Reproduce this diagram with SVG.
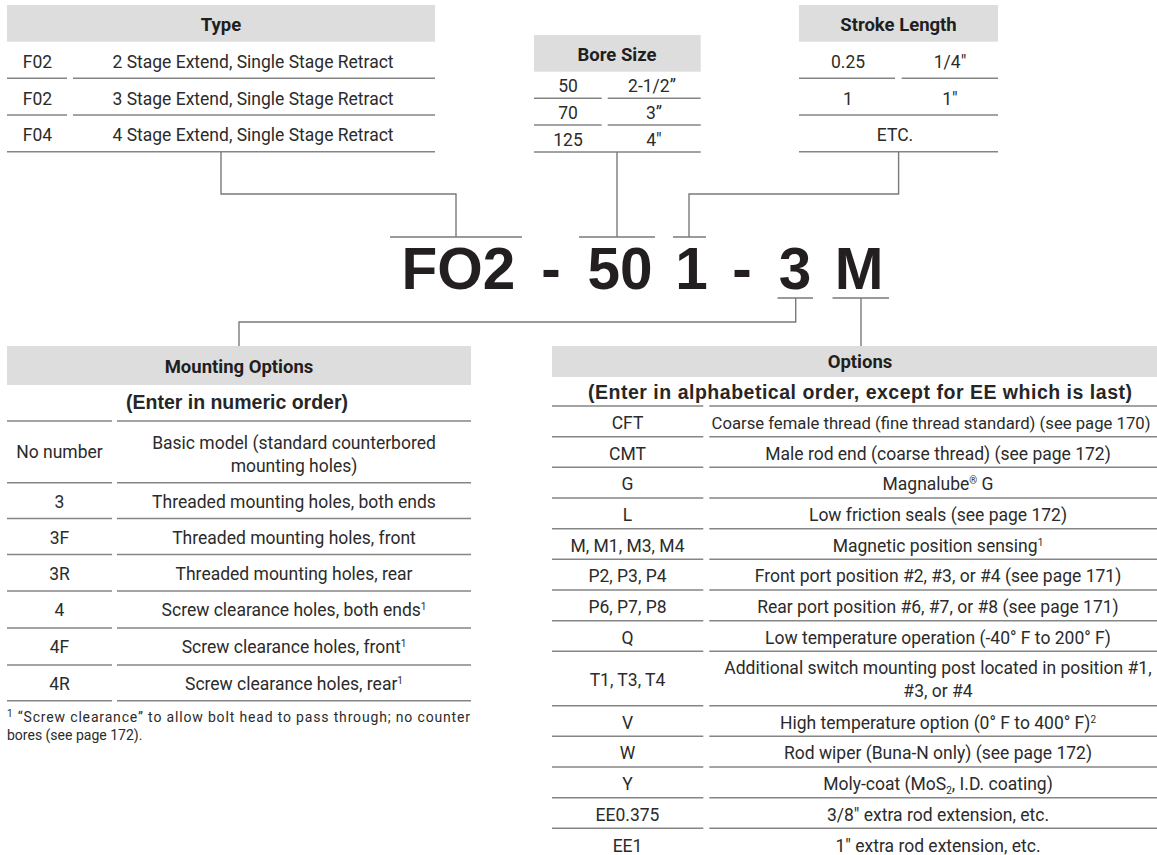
<svg xmlns="http://www.w3.org/2000/svg" width="1157" height="855" viewBox="0 0 1157 855">
<style>
.hdr{fill:#dddddd}
.ln{stroke:#858585;stroke-width:1.5;fill:none}
.cn{stroke:#7a7a7a;stroke-width:1.4;fill:none}
.t{font-family:Roboto,"Liberation Sans",sans-serif;font-size:17.5px;fill:#2b2b2b;text-anchor:middle}
.h{font-family:Roboto,"Liberation Sans",sans-serif;font-weight:700;font-size:18.5px;fill:#1f1f1f;text-anchor:middle}
.s{font-family:"Liberation Sans",Arial,sans-serif;font-weight:700;font-size:19.5px;fill:#262626;text-anchor:middle}
.big{font-family:"Liberation Sans",Arial,sans-serif;font-weight:700;font-size:58.5px;fill:#231f20;text-anchor:middle}
.fn{font-family:Roboto,"Liberation Sans",sans-serif;font-size:14px;fill:#2b2b2b}
.sup{font-size:10px}
</style>
<rect width="1157" height="855" fill="#ffffff"/>

<g id="type-table">
<rect class="hdr" x="7" y="5" width="428" height="36.7"/>
<text class="h" x="221" y="30.5">Type</text>
<text class="t" x="37.5" y="68">F02</text><text class="t" x="253" y="68">2 Stage Extend, Single Stage Retract</text>
<text class="t" x="37.5" y="104.5">F02</text><text class="t" x="253" y="104.5">3 Stage Extend, Single Stage Retract</text>
<text class="t" x="37.5" y="141">F04</text><text class="t" x="253" y="141">4 Stage Extend, Single Stage Retract</text>
<path class="ln" d="M7,78.3H67M73,78.3H435M7,115H67M73,115H435M7,151.7H435"/>
</g>

<g id="bore-table">
<rect class="hdr" x="534" y="35" width="166.7" height="36.7"/>
<text class="h" x="617" y="60.5">Bore Size</text>
<text class="t" x="568" y="92">50</text><text class="t" x="652" y="92">2-1/2”</text>
<text class="t" x="568" y="119">70</text><text class="t" x="654" y="119">3”</text>
<text class="t" x="568" y="146">125</text><text class="t" x="654" y="146">4"</text>
<path class="ln" d="M534,98.3H601.7M607.7,98.3H700.7M534,125H601.7M607.7,125H700.7M534,152H700.7"/>
</g>

<g id="stroke-table">
<rect class="hdr" x="799" y="5" width="199" height="36.7"/>
<text class="h" x="898.5" y="30.5">Stroke Length</text>
<text class="t" x="848" y="68">0.25</text><text class="t" x="950" y="68">1/4"</text>
<text class="t" x="848" y="104.5">1</text><text class="t" x="950" y="104.5">1"</text>
<text class="t" x="895" y="141">ETC.</text>
<path class="ln" d="M799,78.3H895M901.7,78.3H998M799,115H998M799,151.7H998"/>
</g>

<g id="model-code">
<text class="big" x="458.5" y="289">FO2</text>
<text class="big" x="551" y="289">-</text>
<text class="big" x="620" y="289">50</text>
<text class="big" x="691.5" y="289">1</text>
<text class="big" x="742" y="289">-</text>
<text class="big" x="795" y="289">3</text>
<text class="big" x="859" y="289">M</text>
</g>

<g id="connectors">
<path class="cn" d="M390,237H522M579,237H655M673,237H706M777.5,298H813M832.5,298H889"/>
<path class="cn" d="M221,152V194H456V237"/>
<path class="cn" d="M617,152V237"/>
<path class="cn" d="M898.6,152V194H689V237"/>
<path class="cn" d="M795.7,298V322H239V346"/>
<path class="cn" d="M861,298V346"/>
</g>

<g id="mounting-table">
<rect class="hdr" x="7" y="346" width="464" height="39"/>
<text class="h" x="239" y="373">Mounting Options</text>
<text class="s" x="237" y="409" textLength="222">(Enter in numeric order)</text>
<path class="ln" d="M7,421H112M117,421H471M7,482.7H112M117,482.7H471M7,518.5H112M117,518.5H471M7,554.5H112M117,554.5H471M7,591H112M117,591H471M7,628H112M117,628H471M7,665H112M117,665H471M7,700.7H112M117,700.7H471"/>
<text class="t" x="59.5" y="458">No number</text>
<text class="t" x="294" y="449">Basic model (standard counterbored</text>
<text class="t" x="294" y="471.5">mounting holes)</text>
<text class="t" x="59.5" y="507.7">3</text><text class="t" x="294" y="507.7">Threaded mounting holes, both ends</text>
<text class="t" x="59.5" y="543.5">3F</text><text class="t" x="294" y="543.5">Threaded mounting holes, front</text>
<text class="t" x="59.5" y="579.5">3R</text><text class="t" x="294" y="579.5">Threaded mounting holes, rear</text>
<text class="t" x="59.5" y="616">4</text><text class="t" x="294" y="616">Screw clearance holes, both ends<tspan class="sup" dy="-6">1</tspan></text>
<text class="t" x="59.5" y="653">4F</text><text class="t" x="294" y="653">Screw clearance holes, front<tspan class="sup" dy="-6">1</tspan></text>
<text class="t" x="59.5" y="690">4R</text><text class="t" x="294" y="690">Screw clearance holes, rear<tspan class="sup" dy="-6">1</tspan></text>
<text class="fn" x="7" y="722" textLength="463"><tspan class="sup" dy="-5">1</tspan><tspan dy="5"> “Screw clearance” to allow bolt head to pass through; no counter</tspan></text>
<text class="fn" x="7" y="740">bores (see page 172).</text>
</g>

<g id="options-table">
<rect class="hdr" x="552" y="346" width="616" height="31"/>
<text class="h" x="860" y="367.5">Options</text>
<text class="s" x="860" y="399" textLength="544">(Enter in alphabetical order, except for EE which is last)</text>
<path class="ln" d="M552,406H703.3M709.3,406H1168M552,436.7H703.3M709.3,436.7H1168M552,467.3H703.3M709.3,467.3H1168M552,498H703.3M709.3,498H1168M552,528.7H703.3M709.3,528.7H1168M552,559.3H703.3M709.3,559.3H1168M552,590H703.3M709.3,590H1168M552,620.7H703.3M709.3,620.7H1168M552,651.3H703.3M709.3,651.3H1168M552,705.7H703.3M709.3,705.7H1168M552,736.3H703.3M709.3,736.3H1168M552,767H703.3M709.3,767H1168M552,797.7H703.3M709.3,797.7H1168M552,828.3H703.3M709.3,828.3H1168"/>
<text class="t" x="931" y="429" style="font-size:16.7px">Coarse female thread (fine thread standard) (see page 170)</text>
<text class="t" x="627.5" y="429">CFT</text>
<text class="t" x="627.5" y="459.7">CMT</text><text class="t" x="938" y="459.7">Male rod end (coarse thread) (see page 172)</text>
<text class="t" x="627.5" y="490.3">G</text><text class="t" x="938" y="490.3">Magnalube<tspan class="sup" dy="-6">®</tspan><tspan dy="6"> G</tspan></text>
<text class="t" x="627.5" y="521">L</text><text class="t" x="938" y="521">Low friction seals (see page 172)</text>
<text class="t" x="627.5" y="551.7">M, M1, M3, M4</text><text class="t" x="938" y="551.7">Magnetic position sensing<tspan class="sup" dy="-6">1</tspan></text>
<text class="t" x="627.5" y="582.3">P2, P3, P4</text><text class="t" x="938" y="582.3">Front port position #2, #3, or #4 (see page 171)</text>
<text class="t" x="627.5" y="613">P6, P7, P8</text><text class="t" x="938" y="613">Rear port position #6, #7, or #8 (see page 171)</text>
<text class="t" x="627.5" y="643.7">Q</text><text class="t" x="938" y="643.7">Low temperature operation (-40° F to 200° F)</text>
<text class="t" x="627.5" y="686">T1, T3, T4</text>
<text class="t" x="938" y="673.5">Additional switch mounting post located in position #1,</text>
<text class="t" x="938" y="697">#3, or #4</text>
<text class="t" x="627.5" y="728.7">V</text><text class="t" x="938" y="728.7">High temperature option (0° F to 400° F)<tspan class="sup" dy="-6">2</tspan></text>
<text class="t" x="627.5" y="759.3">W</text><text class="t" x="938" y="759.3">Rod wiper (Buna-N only) (see page 172)</text>
<text class="t" x="627.5" y="790">Y</text><text class="t" x="938" y="790">Moly-coat (MoS<tspan class="sup" dy="4">2</tspan><tspan dy="-4">, I.D. coating)</tspan></text>
<text class="t" x="627.5" y="821">EE0.375</text><text class="t" x="938" y="821">3/8" extra rod extension, etc.</text>
<text class="t" x="627.5" y="852">EE1</text><text class="t" x="938" y="852">1" extra rod extension, etc.</text>
</g>
</svg>
